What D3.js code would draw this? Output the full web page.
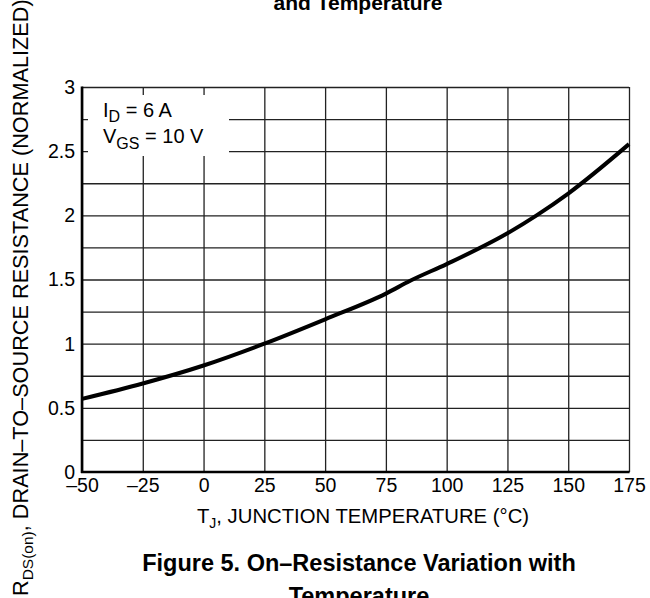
<!DOCTYPE html>
<html>
<head>
<meta charset="utf-8">
<script src="https://cdn.jsdelivr.net/npm/d3@7"></script>
<style>
  html, body { margin: 0; padding: 0; background: #fff; }
  svg { display: block; }
  text { font-family: "Liberation Sans", Arial, Helvetica, sans-serif; fill: #000; }
</style>
</head>
<body>
<svg id="chart" width="650" height="598"></svg>
<script>
// ---- data ----
const temperatures = [-50, -25, 0, 25, 50, 75, 85, 100, 125, 137, 150, 175];
const resistance   = [0.57, 0.69, 0.83, 1.0, 1.19, 1.39, 1.49, 1.62, 1.86, 2.0, 2.17, 2.555];
const xTicks = [-50, -25, 0, 25, 50, 75, 100, 125, 150, 175];
const xTickLabels = ["\u201350", "\u201325", "0", "25", "50", "75", "100", "125", "150", "175"];
const yTicks = [0, 0.5, 1, 1.5, 2, 2.5, 3];
const yTickLabels = ["0", "0.5", "1", "1.5", "2", "2.5", "3"];
const yGrid = [0.25, 0.5, 0.75, 1, 1.25, 1.5, 1.75, 2, 2.25, 2.5, 2.75, 3];

// ---- layout ----
const L = 82, R = 629, T = 87, B = 472;
const svg = d3.select("#chart");
const x = d3.scaleLinear().domain([-50, 175]).range([L, R]);
const y = d3.scaleLinear().domain([0, 3]).range([B, T]);

// grid via axes
const gx = svg.append("g").attr("transform", `translate(0,${B})`)
  .call(d3.axisBottom(x).tickValues(xTicks).tickSize(-(B - T)).tickFormat(""));
gx.select(".domain").remove();
gx.selectAll("line").attr("stroke", "#222").attr("stroke-width", 1.3);

const gy = svg.append("g").attr("transform", `translate(${L},0)`)
  .call(d3.axisLeft(y).tickValues(yGrid).tickSize(-(R - L)).tickFormat(""));
gy.select(".domain").remove();
gy.selectAll("line").attr("stroke", "#222").attr("stroke-width", 1.3);

// legend box (white, covers grid)
svg.append("rect").attr("x", 88).attr("y", 95).attr("width", 141).attr("height", 61)
  .attr("fill", "#fff");

// thick left & bottom axes
svg.append("line").attr("x1", L).attr("x2", L).attr("y1", T - 0.5).attr("y2", B + 1)
  .attr("stroke", "#000").attr("stroke-width", 2.6);
svg.append("line").attr("x1", L - 1).attr("x2", R + 0.6).attr("y1", B).attr("y2", B)
  .attr("stroke", "#000").attr("stroke-width", 2.6);

// tick labels via axes
const lx = svg.append("g").attr("transform", `translate(0,${B})`)
  .call(d3.axisBottom(x).tickValues(xTicks).tickSize(0).tickPadding(0)
    .tickFormat((d, i) => xTickLabels[i]));
lx.select(".domain").remove();
lx.selectAll("text").attr("font-size", "19.5px").attr("y", 20).attr("dy", null)
  .attr("font-family", "Liberation Sans, Arial, sans-serif").attr("fill", "#000");

const ly = svg.append("g").attr("transform", `translate(${L},0)`)
  .call(d3.axisLeft(y).tickValues(yTicks).tickSize(0).tickPadding(0)
    .tickFormat((d, i) => yTickLabels[i]));
ly.select(".domain").remove();
ly.selectAll("text").attr("font-size", "19.5px").attr("x", -7).attr("dy", "0.33em")
  .attr("font-family", "Liberation Sans, Arial, sans-serif").attr("fill", "#000");

// curve
const pts = temperatures.map((t, i) => [t, resistance[i]]);
svg.append("path").datum(pts)
  .attr("fill", "none").attr("stroke", "#000").attr("stroke-width", 4)
  .attr("d", d3.line().x(d => x(d[0])).y(d => y(d[1])).curve(d3.curveMonotoneX));

// legend text
const lt1 = svg.append("text").attr("x", 103).attr("y", 117).attr("font-size", "20px");
lt1.append("tspan").text("I");
lt1.append("tspan").attr("font-size", "16px").attr("dy", 5).text("D");
lt1.append("tspan").attr("dy", -5).text(" = 6 A");
const lt2 = svg.append("text").attr("x", 103).attr("y", 143).attr("font-size", "20px");
lt2.append("tspan").text("V");
lt2.append("tspan").attr("font-size", "16px").attr("dy", 6).text("GS");
lt2.append("tspan").attr("dy", -6).text(" = 10 V");

// x axis title
const xt = svg.append("text").attr("x", 363).attr("y", 523).attr("text-anchor", "middle")
  .attr("font-size", "20.3px");
xt.append("tspan").text("T");
xt.append("tspan").attr("font-size", "14px").attr("dy", 5).text("J");
xt.append("tspan").attr("dy", -5).text(", JUNCTION TEMPERATURE (\u00B0C)");

// y axis title (rotated)
const yt = svg.append("text").attr("transform", "translate(28,596) rotate(-90)")
  .attr("font-size", "21.7px");
yt.append("tspan").text("R");
yt.append("tspan").attr("font-size", "15.5px").attr("dy", 5).text("DS(on)");
yt.append("tspan").attr("dy", -5).text(", DRAIN\u2013TO\u2013SOURCE RESISTANCE (NORMALIZED)");

// figure captions
svg.append("text").attr("x", 358).attr("y", 10).attr("text-anchor", "middle")
  .attr("font-size", "21px").attr("font-weight", "bold").text("and Temperature");
svg.append("text").attr("x", 359).attr("y", 571).attr("text-anchor", "middle")
  .attr("font-size", "23.5px").attr("font-weight", "bold")
  .text("Figure 5. On\u2013Resistance Variation with");
svg.append("text").attr("x", 359).attr("y", 604).attr("text-anchor", "middle")
  .attr("font-size", "23.5px").attr("font-weight", "bold").text("Temperature");
</script>
</body>
</html>
